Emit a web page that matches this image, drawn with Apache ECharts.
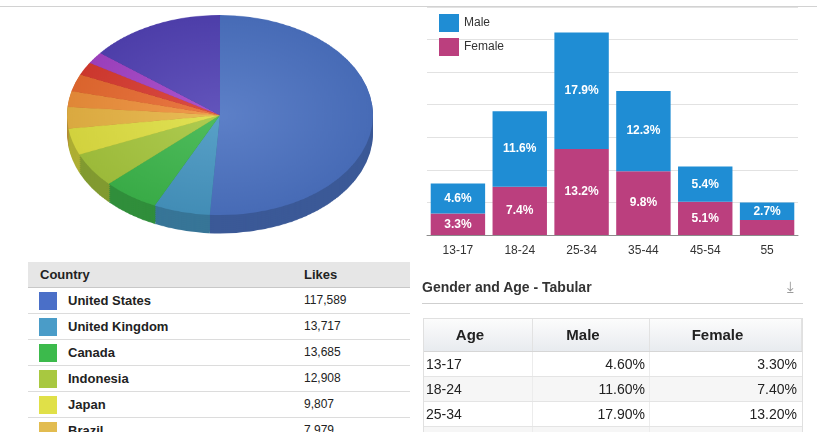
<!DOCTYPE html>
<html>
<head>
<meta charset="utf-8">
<script src="https://cdn.jsdelivr.net/npm/echarts@6/dist/echarts.min.js"></script>
<style>
html,body{margin:0;padding:0;background:#fff;width:817px;height:432px;overflow:hidden;
  font-family:"Liberation Sans",Arial,Helvetica,sans-serif;color:#222;position:relative}
#topline{position:absolute;left:0;top:6px;width:817px;height:0;border-top:1px solid #d2d2d2}
#pie{position:absolute;left:0;top:0;width:440px;height:370px;transform:scaleY(0.654);transform-origin:0 0}
#bar{position:absolute;left:410px;top:0;width:407px;height:270px}
#ctab{position:absolute;left:28px;top:262px;width:382px;height:170px;overflow:hidden}
#ctab .hd{position:relative;height:25px;background:#e6e6e6;border-bottom:1px solid #c8c8c8;font-weight:bold;font-size:13px;line-height:25px}
#ctab .row{position:relative;height:25px;border-bottom:1px solid #dcdcdc;line-height:25px}
#ctab .sw{position:absolute;left:11px;top:4px;width:18px;height:18px}
#ctab .nm{position:absolute;left:40px;top:0;font-weight:bold;font-size:13px}
#ctab .lk{position:absolute;left:276px;top:0;font-size:12px}
#gtitle{position:absolute;left:422px;top:279px;font-weight:bold;font-size:14px;color:#333}
#gline{position:absolute;left:422px;top:303px;width:381px;height:0;border-top:1px solid #cfcfcf}
#dl{position:absolute;left:787px;top:278px;font-size:15px;color:#9a9a9a;font-family:"DejaVu Sans",sans-serif}
#gtab{position:absolute;left:423px;top:318px;width:378px;height:140px;border:1px solid #e0e0e0;border-bottom:none;overflow:hidden}
#gtab .hd{position:relative;height:32px;background:linear-gradient(#fcfcfc,#e8ebef);border-bottom:1px solid #d6d6d6}
#gtab .hc{position:absolute;top:0;height:32px;line-height:32px;font-weight:bold;font-size:15px;text-align:center;box-sizing:border-box;padding-right:16px;border-right:1px solid #e2e2e2}
#gtab .row{position:relative;height:24px;border-bottom:1px solid #e4e4e4;font-size:14px;line-height:24px}
#gtab .c{position:absolute;top:0;height:24px;box-sizing:border-box;border-right:1px solid #ececec}
</style>
</head>
<body>
<div id="topline"></div>
<div id="pie"></div>
<div id="bar"></div>
<div id="ctab"></div>
<div id="gtitle">Gender and Age - Tabular</div>
<div id="gline"></div>
<div id="dl">⤓</div>
<div id="gtab"></div>
<script>
// ---------- data ----------
const countries = ['United States','United Kingdom','Canada','Indonesia','Japan','Brazil',
                   'Country 7','Country 8','Country 9','Country 10','Other'];
const likes = [117589,13717,13685,12908,9807,7979,5900,6400,4900,4400,33000];
const tableRows = 6;

const ageGroups = ['13-17','18-24','25-34','35-44','45-54','55'];
const maleShare = [4.6,11.6,17.9,12.3,5.4,2.7];
const femaleShare = [3.3,7.4,13.2,9.8,5.1,2.3];

// ---------- styles ----------
const pieColors = ['#4b72c2','#4696c2','#3db64b','#a6c63e','#dfdf42','#e8b444',
                   '#ee903a','#e86a30','#d83a30','#a443c6','#5242b4'];
const swatchColors = ['#4a6fc8','#4a9cc8','#3cba4c','#a8c840','#e0e048','#e2bc50',
                      '#ee903a','#e86a30','#d83a30','#a443c6','#5242b4'];
function mix(hex,t){
  const n=parseInt(hex.slice(1),16);const r=n>>16,g=(n>>8)&255,b=n&255;
  const f=c=>t>=0?Math.round(c+(255-c)*t):Math.round(c*(1+t));
  return 'rgb('+f(r)+','+f(g)+','+f(b)+')';
}

// ---------- pie (3D look: squashed + stacked side layers) ----------
const pieChart = echarts.init(document.getElementById('pie'),null,{renderer:'canvas'});
const cx=220, cy=176, R=153;
const sideOffsets=[28,25,22,19,16,13,10,7,4,1];
const pieSeries = sideOffsets.map(o=>({
  type:'pie', center:[cx,cy+o], radius:R, startAngle:90, silent:true, animation:false,
  label:{show:false}, labelLine:{show:false}, emphasis:{disabled:true},
  itemStyle:{borderWidth:0},
  data: countries.map((n,i)=>({name:n,value:likes[i],itemStyle:{color:mix(pieColors[i],-0.22)}}))
}));
pieSeries.push({
  type:'pie', center:[cx,cy], radius:R, startAngle:90, silent:true, animation:false,
  label:{show:false}, labelLine:{show:false}, emphasis:{disabled:true},
  itemStyle:{borderWidth:0},
  data: countries.map((n,i)=>({name:n,value:likes[i],itemStyle:{color:{
    type:'radial', x:cx, y:cy, r:R, global:true,
    colorStops:[{offset:0,color:mix(pieColors[i],0.1)},{offset:1,color:mix(pieColors[i],-0.06)}]}}}))
});
pieChart.setOption({animation:false, series:pieSeries});

// ---------- stacked bar ----------
const barChart = echarts.init(document.getElementById('bar'));
const lbl = {show:true, position:'inside', color:'#fff', fontWeight:'bold', fontSize:12,
  fontFamily:'"Liberation Sans",Arial,sans-serif',
  formatter:p=>p.value>=2.5?p.value.toFixed(1)+'%':''};
barChart.setOption({
  animation:false,
  textStyle:{fontFamily:'"Liberation Sans",Arial,sans-serif'},
  legend:{data:['Male','Female'], orient:'vertical', left:24, top:9, icon:'rect',
    itemWidth:20, itemHeight:18, itemGap:6, textStyle:{fontSize:12,color:'#333'}, selectedMode:false},
  grid:{left:17, right:19, top:7, bottom:35, containLabel:false},
  xAxis:{type:'category', data:ageGroups,
    axisLine:{lineStyle:{color:'#8c8c8c'}},
    axisTick:{alignWithLabel:true, length:7, lineStyle:{color:'#8c8c8c'}},
    axisLabel:{color:'#333', fontSize:12, margin:10}},
  yAxis:{type:'value', min:0, max:35, interval:5, axisLabel:{show:false},
    axisLine:{show:false}, axisTick:{show:false},
    splitLine:{lineStyle:{color:'#e2e2e2'}}},
  series:[
    {name:'Female', type:'bar', stack:'g', data:femaleShare, barCategoryGap:'12%',
     itemStyle:{color:'#bb3f7e'}, label:lbl},
    {name:'Male', type:'bar', stack:'g', data:maleShare, barCategoryGap:'12%',
     itemStyle:{color:'#1f8dd4'}, label:lbl}
  ]
});

// ---------- country table ----------
const fmt = v=>v.toLocaleString('en-US');
let h='<div class="hd"><span style="position:absolute;left:12px">Country</span><span style="position:absolute;left:276px">Likes</span></div>';
for(let i=0;i<tableRows;i++){
  h+='<div class="row"><div class="sw" style="background:'+swatchColors[i]+'"></div>'+
     '<span class="nm">'+countries[i]+'</span><span class="lk">'+fmt(likes[i])+'</span></div>';
}
document.getElementById('ctab').innerHTML=h;

// ---------- gender/age table ----------
const cols=[{l:0,w:109},{l:109,w:117},{l:226,w:152}];
let g='<div class="hd">'+['Age','Male','Female'].map((t,i)=>
  '<div class="hc" style="left:'+cols[i].l+'px;width:'+cols[i].w+'px">'+t+'</div>').join('')+'</div>';
ageGroups.forEach((a,i)=>{
  g+='<div class="row" style="background:'+(i%2?'#f6f6f6':'#fff')+'">'+
    '<div class="c" style="left:0;width:109px;padding-left:2px">'+a+'</div>'+
    '<div class="c" style="left:109px;width:117px;text-align:right;padding-right:4px">'+maleShare[i].toFixed(2)+'%</div>'+
    '<div class="c" style="left:226px;width:152px;text-align:right;padding-right:5px;border-right:none">'+femaleShare[i].toFixed(2)+'%</div>'+
    '</div>';
});
document.getElementById('gtab').innerHTML=g;
</script>
</body>
</html>
